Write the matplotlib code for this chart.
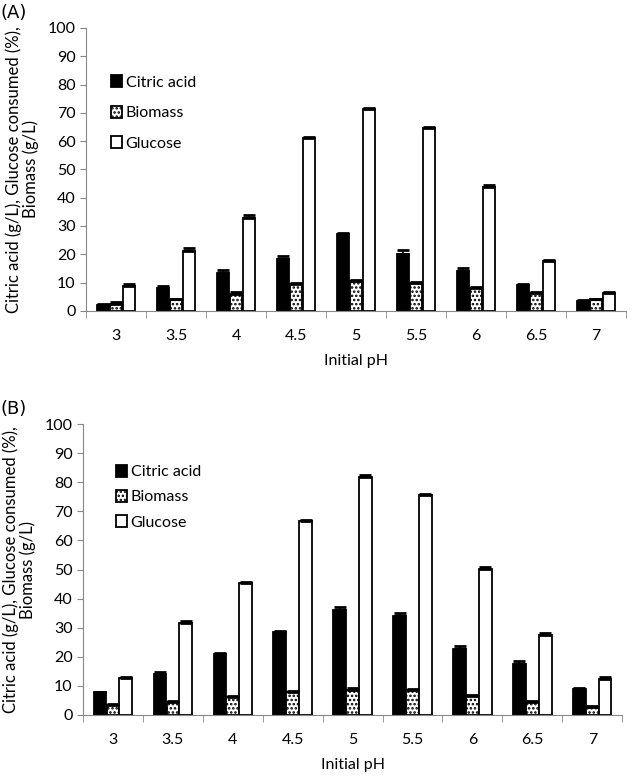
import matplotlib.pyplot as plt
import numpy as np

plt.rcParams['font.family'] = ['Lato', 'DejaVu Sans']
plt.rcParams['hatch.linewidth'] = 1.2

ph_labels = ['3', '3.5', '4', '4.5', '5', '5.5', '6', '6.5', '7']
series_names = ['Citric acid', 'Biomass', 'Glucose']

# panel A values
citric_a = [2.0, 8.2, 13.3, 18.2, 27.0, 20.2, 14.1, 9.0, 3.4]
biomass_a = [2.5, 4.0, 6.0, 9.5, 10.5, 9.8, 8.0, 6.2, 4.0]
glucose_a = [8.8, 21.0, 32.7, 61.0, 71.3, 64.5, 43.8, 17.5, 6.2]
citric_a_err = [0.5, 0.5, 1.0, 1.0, 0.5, 1.2, 1.0, 0.5, 0.3]
biomass_a_err = [0.5, 0.3, 0.5, 0.3, 0.4, 0.5, 0.4, 0.4, 0.3]
glucose_a_err = [0.5, 1.3, 1.0, 0.5, 0.3, 0.5, 0.6, 0.4, 0.3]

# panel B values
citric_b = [7.7, 14.2, 21.0, 28.5, 36.0, 34.0, 22.5, 17.5, 9.0]
biomass_b = [3.5, 4.3, 6.2, 7.8, 8.7, 8.5, 6.5, 4.5, 2.7]
glucose_b = [12.6, 31.6, 45.3, 66.7, 82.0, 75.5, 50.3, 27.6, 12.5]
citric_b_err = [0.3, 0.5, 0.4, 0.5, 1.0, 1.0, 1.2, 1.0, 0.4]
biomass_b_err = [0.3, 0.3, 0.3, 0.5, 0.4, 0.3, 0.3, 0.3, 0.3]
glucose_b_err = [0.3, 0.8, 0.5, 0.5, 0.4, 0.6, 0.5, 0.4, 0.4]


def draw_panel(ax, vals, errs, tag, leg_xy, leg_space):
    x = np.arange(len(ph_labels))
    w = 0.21
    styles = [dict(color='black', edgecolor='black'),
              dict(color='white', edgecolor='black', hatch='....'),
              dict(color='white', edgecolor='black')]
    for i, (v, e, st) in enumerate(zip(vals, errs, styles)):
        xi = x + (i - 1) * 0.215
        ax.bar(xi, v, w, linewidth=1.3, label=series_names[i], **st)
        ax.errorbar(xi, v, yerr=[np.zeros(len(e)), e], fmt='none',
                    ecolor='black', elinewidth=1.2, capsize=4.5, capthick=2)
    ax.set_xlim(-0.5, len(ph_labels) - 0.5)
    ax.set_ylim(0, 100)
    ax.set_yticks(np.arange(0, 101, 10))
    ax.set_xticks(x)
    ax.set_xticklabels(ph_labels)
    ax.set_xticks(np.arange(-0.5, len(ph_labels)), minor=True)
    ax.tick_params(axis='x', which='major', length=0, pad=13, labelsize=11.5)
    ax.tick_params(axis='x', which='minor', length=5, color='#888888')
    ax.tick_params(axis='y', length=4, color='#888888', labelsize=11.5)
    for s in ['top', 'right']:
        ax.spines[s].set_visible(False)
    for s in ['left', 'bottom']:
        ax.spines[s].set_color('#888888')
    ax.set_xlabel('Initial pH', fontsize=11.5, labelpad=8)
    ax.set_ylabel('Citric acid (g/L), Glucose consumed (%),\nBiomass (g/L)',
                  fontsize=12, labelpad=6, linespacing=1.05)
    ax.legend(loc='upper left', bbox_to_anchor=leg_xy, frameon=False,
              fontsize=11.5, handlelength=0.65, handleheight=0.8,
              handletextpad=0.25, labelspacing=leg_space)
    ax.figure.text(0.0, ax.get_position().y1 + 0.008, tag, fontsize=13,
                   family='DejaVu Sans', va='bottom')


fig = plt.figure(figsize=(6.33, 7.77), dpi=100)
ax_a = fig.add_axes([0.136, 0.600, 0.853, 0.364])
ax_b = fig.add_axes([0.131, 0.080, 0.852, 0.374])

draw_panel(ax_a,
           [citric_a, biomass_a, glucose_a],
           [citric_a_err, biomass_a_err, glucose_a_err], '(A)',
           (0.02, 0.885), 1.0)
draw_panel(ax_b,
           [citric_b, biomass_b, glucose_b],
           [citric_b_err, biomass_b_err, glucose_b_err], '(B)',
           (0.035, 0.91), 0.65)

fig.savefig('out.png', dpi=100)
